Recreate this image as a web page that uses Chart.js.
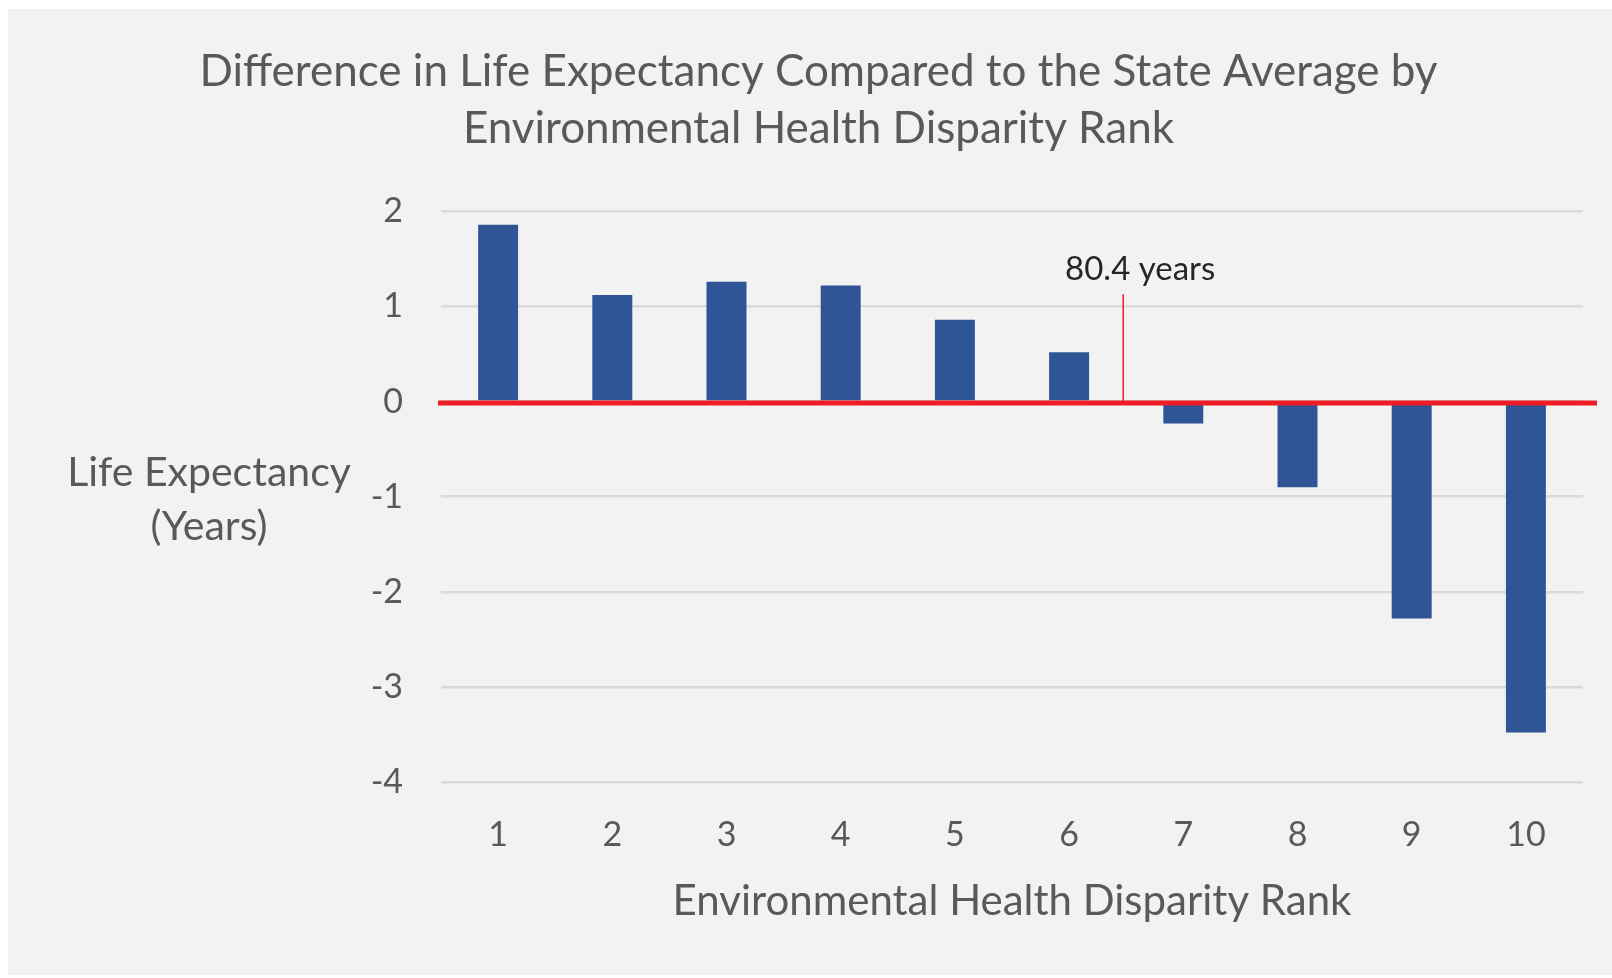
<!DOCTYPE html>
<html>
<head>
<meta charset="utf-8">
<script src="https://cdn.jsdelivr.net/npm/chart.js@4"></script>
<style>
  html, body { margin: 0; padding: 0; background: #fff; overflow: hidden; }
  #wrap { position: absolute; left: 8px; top: 9px; width: 1604px; height: 966px; background: #F2F2F2; }
</style>
</head>
<body>
<div id="wrap"><canvas id="myChartLife"></canvas></div>
<script>
const categories = ["1", "2", "3", "4", "5", "6", "7", "8", "9", "10"];
const lifeDiff = [1.86, 1.12, 1.26, 1.22, 0.86, 0.52, -0.23, -0.9, -2.28, -3.48];
const yMin = -4;
const yMax = 2;
const stateAvgText = "80.4 years";
const markerIndex = 5.5;   // between rank 6 and 7
const markerTop = 1.13;
const markerLabelAt = 1.39;
const yTitle = ["Life Expectancy", "(Years)"];

const FONT = "Lato";
const GREY = "#595959";
const RED = "#EE1C25";

// red zero line, the 80.4 years marker and the flat y title
const extras = {
  id: "extras",
  afterDatasetsDraw(chart) {
    const { ctx, chartArea, scales } = chart;
    const x = scales.x, y = scales.y;
    ctx.save();
    const y0 = y.getPixelForValue(0) + 1.5;
    ctx.strokeStyle = RED;
    ctx.lineWidth = 5;
    ctx.beginPath();
    ctx.moveTo(chartArea.left - 3, y0);
    ctx.lineTo(chartArea.right + 14, y0);
    ctx.stroke();

    const mx = x.getPixelForValue(markerIndex) - 3;
    ctx.lineWidth = 1.5;
    ctx.beginPath();
    ctx.moveTo(mx, y.getPixelForValue(markerTop));
    ctx.lineTo(mx, y0);
    ctx.stroke();

    ctx.fillStyle = "#262626";
    ctx.font = "33px " + FONT;
    ctx.textAlign = "center";
    ctx.textBaseline = "middle";
    ctx.fillText(stateAvgText, mx + 17, y.getPixelForValue(markerLabelAt));

    ctx.fillStyle = GREY;
    ctx.font = "41px " + FONT;
    const ty = (chartArea.top + chartArea.bottom) / 2;
    ctx.fillText(yTitle[0], chartArea.left - 232, ty - 24);
    ctx.fillText(yTitle[1], chartArea.left - 232, ty + 30);
    ctx.restore();
  },
};

const myChartLife = new Chart(document.getElementById("myChartLife"), {
  type: "bar",
  data: {
    labels: categories,
    datasets: [
      {
        data: lifeDiff,
        backgroundColor: "#2F5597",
        borderWidth: 0,
        barPercentage: 0.35,
        categoryPercentage: 1,
      },
    ],
  },
  plugins: [extras],
  options: {
    responsive: true,
    maintainAspectRatio: false,
    animation: false,
    layout: { padding: { left: 46, right: 29, top: 0, bottom: 0 } },
    plugins: {
      legend: { display: false },
      tooltip: { enabled: false },
      title: {
        display: true,
        text: [
          "Difference in Life Expectancy Compared to the State Average by",
          "Environmental Health Disparity Rank",
        ],
        color: GREY,
        font: { family: FONT, size: 44, weight: "normal", lineHeight: 1.3 },
        padding: { top: 34, bottom: 54 },
      },
    },
    scales: {
      x: {
        afterFit(scale) {
          scale.height = 193;
        },
        grid: { display: false },
        border: { display: false },
        ticks: {
          color: GREY,
          padding: 25,
          font: { family: FONT, size: 34 },
        },
        title: {
          display: true,
          text: "Environmental Health Disparity Rank",
          color: GREY,
          font: { family: FONT, size: 42 },
          padding: { top: 10, bottom: 48 },
        },
      },
      y: {
        min: yMin,
        max: yMax,
        afterFit(scale) {
          scale.width = 387;
        },
        grid: { color: "#D9D9D9", lineWidth: 2.5, drawTicks: false },
        border: { display: false },
        ticks: {
          stepSize: 1,
          color: GREY,
          padding: 38,
          font: { family: FONT, size: 34 },
        },
      },
    },
  },
});
</script>
</body>
</html>
